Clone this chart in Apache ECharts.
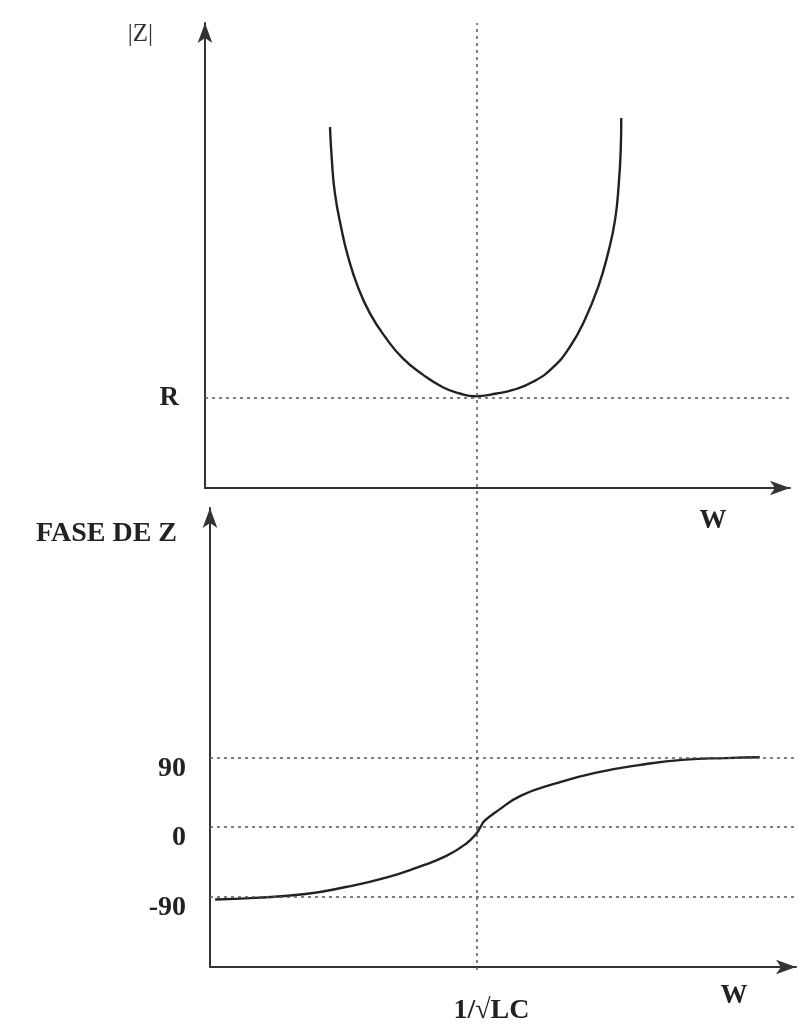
<!DOCTYPE html>
<html>
<head>
<meta charset="utf-8">
<script src="https://cdn.jsdelivr.net/npm/echarts@6/dist/echarts.min.js"></script>
<style>
html,body{margin:0;padding:0;background:#fff;}
#chart{width:799px;height:1025px;}
</style>
</head>
<body>
<div id="chart"></div>
<script>
// |Z| versus W (omega normalised so that 1 = 1/sqrt(LC), |Z| normalised so that 1 = R)
const magOmega = [0.463, 0.470, 0.481, 0.504, 0.530, 0.567, 0.611, 0.667, 0.733, 0.807, 0.881, 0.944, 1.0, 1.081, 1.141, 1.215, 1.289, 1.352, 1.407, 1.456, 1.493, 1.519, 1.533, 1.540, 1.542];
const magZ     = [4.01, 3.64, 3.28, 2.90, 2.57, 2.23, 1.94, 1.68, 1.44, 1.26, 1.12, 1.05, 1.02, 1.05, 1.09, 1.18, 1.34, 1.57, 1.87, 2.23, 2.61, 2.98, 3.39, 3.76, 4.11];
// Phase of Z (degrees) versus W
const phaseOmega = [0.019, 0.167, 0.353, 0.502, 0.651, 0.773, 0.874, 0.948, 0.985, 1.0, 1.015, 1.067, 1.152, 1.275, 1.424, 1.587, 1.758, 1.907, 2.033];
const phaseDeg   = [-93, -91, -86, -77, -65, -51, -37, -21, -8, 0, 8, 22, 41, 56, 70, 80, 87, 89, 90];
// Reference levels / tick labels
const magRefValue = 1;           // R
const magRefLabel = 'R';
const phaseRefValues = [90, 0, -90];
const resonanceValue = 1;        // 1/sqrt(LC)
const resonanceLabel = '1/√LC';
const xName = 'W';
const magName = '|Z|';
const phaseName = 'FASE DE Z';

const zip = (a, b) => a.map((v, i) => [v, b[i]]);

const serif = "'Liberation Serif', 'DejaVu Serif', serif";
const ink = '#222';
const dotStyle = { type: [3, 4], color: '#555', width: 1.5 };
const axisLineBase = {
  show: true,
  onZero: false,
  symbol: ['none', 'arrow'],
  symbolSize: [11, 20],
  lineStyle: { color: '#333', width: 2 }
};

const chart = echarts.init(document.getElementById('chart'), null, { renderer: 'canvas' });

const option = {
  backgroundColor: '#fff',
  animation: false,
  grid: [
    { left: 205, right: 9, top: 23, bottom: 537 },   // |Z|
    { left: 210, right: 3, top: 508, bottom: 55 },   // phase
    { left: 207, right: 7, top: 23, bottom: 55 }     // vertical resonance guide
  ],
  xAxis: [
    {
      gridIndex: 0, type: 'value', min: 0, max: 2.167,
      axisLine: axisLineBase, axisTick: { show: false }, splitLine: { show: false },
      axisLabel: { show: false },
      name: xName, nameLocation: 'end', nameGap: -77,
      nameTextStyle: { fontFamily: serif, fontWeight: 'bold', fontSize: 27, color: ink, align: 'center', verticalAlign: 'top', padding: [20, 0, 0, 0] }
    },
    {
      gridIndex: 1, type: 'value', min: 0, max: 2.167, interval: 1,
      axisLine: axisLineBase, axisTick: { show: false }, splitLine: { show: false },
      axisLabel: {
        show: true, margin: 30, fontFamily: serif, fontWeight: 'bold', fontSize: 28, color: ink,
        padding: [0, 0, 0, 22],
        formatter: v => (Math.abs(v - resonanceValue) < 1e-9 ? resonanceLabel : '')
      },
      name: xName, nameLocation: 'end', nameGap: -62,
      nameTextStyle: { fontFamily: serif, fontWeight: 'bold', fontSize: 27, color: ink, align: 'center', verticalAlign: 'top', padding: [16, 0, 0, 0] }
    },
    {
      gridIndex: 2, type: 'value', min: 0, max: 2.167, show: false
    }
  ],
  yAxis: [
    {
      gridIndex: 0, type: 'value', min: 0, max: 5.167, interval: 1,
      axisLine: axisLineBase, axisTick: { show: false }, splitLine: { show: false },
      axisLabel: {
        show: true, margin: 26, fontFamily: serif, fontWeight: 'bold', fontSize: 27, color: ink,
        formatter: v => (Math.abs(v - magRefValue) < 1e-9 ? magRefLabel : '')
      },
      name: magName, nameLocation: 'end', nameGap: -24,
      nameTextStyle: { fontFamily: serif, fontSize: 25, color: '#333', align: 'right', verticalAlign: 'bottom', padding: [0, 52, 0, 0] }
    },
    {
      gridIndex: 1, type: 'value', min: -180, max: 411, interval: 90,
      axisLine: axisLineBase, axisTick: { show: false }, splitLine: { show: false },
      axisLabel: {
        show: true, margin: 24, fontFamily: serif, fontWeight: 'bold', fontSize: 28, color: ink,
        verticalAlign: 'top', lineHeight: 22,
        formatter: v => (phaseRefValues.indexOf(v) >= 0 ? String(v) : '')
      },
      name: phaseName, nameLocation: 'end', nameGap: -40,
      nameTextStyle: { fontFamily: serif, fontWeight: 'bold', fontSize: 28, color: ink, align: 'right', verticalAlign: 'bottom', padding: [0, 33, 0, 0] }
    },
    {
      gridIndex: 2, type: 'value', min: 0, max: 1, show: false
    }
  ],
  series: [
    {
      name: magName, type: 'line', xAxisIndex: 0, yAxisIndex: 0,
      data: zip(magOmega, magZ), smooth: 0.5, showSymbol: false, silent: true,
      lineStyle: { color: ink, width: 2.4 },
      markLine: {
        silent: true, symbol: ['none', 'none'], label: { show: false },
        lineStyle: dotStyle,
        data: [{ yAxis: magRefValue }]
      }
    },
    {
      name: phaseName, type: 'line', xAxisIndex: 1, yAxisIndex: 1,
      data: zip(phaseOmega, phaseDeg), smooth: 0.5, showSymbol: false, silent: true,
      lineStyle: { color: ink, width: 2.4 },
      markLine: {
        silent: true, symbol: ['none', 'none'], label: { show: false },
        lineStyle: dotStyle,
        data: phaseRefValues.map(v => ({ yAxis: v }))
      }
    },
    {
      name: 'resonance', type: 'line', xAxisIndex: 2, yAxisIndex: 2,
      data: [[resonanceValue, 0], [resonanceValue, 1]], showSymbol: false, silent: true,
      lineStyle: dotStyle
    }
  ]
};
chart.setOption(option);
</script>
</body>
</html>
